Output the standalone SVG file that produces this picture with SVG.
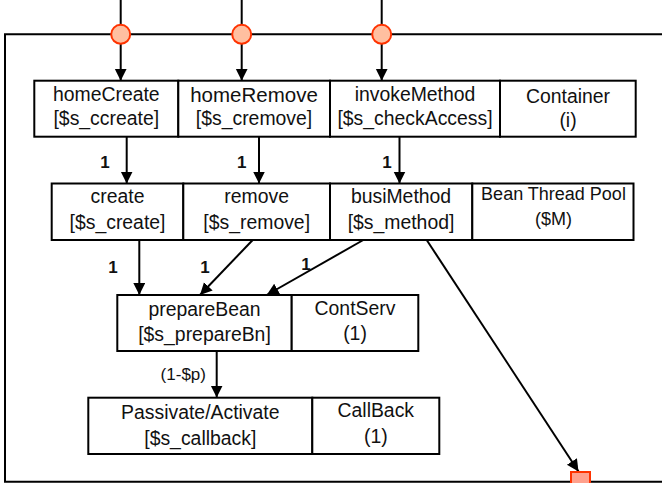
<svg xmlns="http://www.w3.org/2000/svg" width="662" height="483" viewBox="0 0 662 483">
<style>
.box{fill:#fff;stroke:#000;stroke-width:2}
.t{font-family:"Liberation Sans",Arial,sans-serif;font-size:19.4px;fill:#111;text-anchor:middle}
.ts{font-family:"Liberation Sans",Arial,sans-serif;font-size:17px;fill:#111;text-anchor:middle}
.lb{font-family:"Liberation Sans",Arial,sans-serif;font-size:17px;font-weight:bold;fill:#111;text-anchor:middle}
.c{stroke:#000;stroke-width:2;fill:none}
.port{fill:#FFBFA0;stroke:#FF3300;stroke-width:2}
.sink{fill:#FFA08C;stroke:#FF3300;stroke-width:2}
</style>
<defs>
<marker id="ah" markerUnits="userSpaceOnUse" markerWidth="13" markerHeight="13" refX="12" refY="6" orient="auto">
<path d="M0,0 L12,6 L0,12 z" fill="#000"/>
</marker>
</defs>
<path id="frame" d="M670,34.3 H5 V481.7 H670" fill="none" stroke="#000" stroke-width="2"/>
<g id="connectors">
<line class="c" x1="120.7" y1="0" x2="120.7" y2="80.7" marker-end="url(#ah)"/>
<line class="c" x1="241.7" y1="0" x2="241.7" y2="80.7" marker-end="url(#ah)"/>
<line class="c" x1="381.7" y1="0" x2="381.7" y2="80.7" marker-end="url(#ah)"/>
<line class="c" x1="126.7" y1="137" x2="126.7" y2="183.5" marker-end="url(#ah)"/>
<line class="c" x1="259" y1="137" x2="259" y2="183.5" marker-end="url(#ah)"/>
<line class="c" x1="399.5" y1="137" x2="399.5" y2="183.5" marker-end="url(#ah)"/>
<line class="c" x1="139.3" y1="240" x2="139.3" y2="295" marker-end="url(#ah)"/>
<line class="c" x1="252.7" y1="240" x2="200" y2="295" marker-end="url(#ah)"/>
<line class="c" x1="363.3" y1="240" x2="266.7" y2="295" marker-end="url(#ah)"/>
<line class="c" x1="426.7" y1="240" x2="578.5" y2="471.5" marker-end="url(#ah)"/>
<line class="c" x1="216.7" y1="351" x2="216.7" y2="397.5" marker-end="url(#ah)"/>
<text class="lb" x="105" y="168">1</text>
<text class="lb" x="241.7" y="168">1</text>
<text class="lb" x="387" y="168">1</text>
<text class="lb" x="113" y="273">1</text>
<text class="lb" x="205" y="273">1</text>
<text class="lb" x="306" y="270">1</text>
<text class="ts" x="183.3" y="380">(1-$p)</text>
</g>
<g id="port1"><circle class="port" cx="120.7" cy="34.3" r="9.5"/></g>
<g id="port2"><circle class="port" cx="241.7" cy="34.3" r="9.5"/></g>
<g id="port3"><circle class="port" cx="381.7" cy="34.3" r="9.5"/></g>
<g id="sink"><rect class="sink" x="571" y="472" width="19" height="19"/></g>
<g id="homeCreate"><rect class="box" x="34.3" y="80.7" width="144" height="56"/><text class="t" x="106.3" y="101">homeCreate</text><text class="t" x="106.3" y="125">[$s_ccreate]</text></g>
<g id="homeRemove"><rect class="box" x="178.3" y="80.7" width="151.7" height="56"/><text class="t" x="254" y="101.5" style="font-size:20.5px">homeRemove</text><text class="t" x="254" y="125">[$s_cremove]</text></g>
<g id="invokeMethod"><rect class="box" x="330" y="80.7" width="170" height="56"/><text class="t" x="415" y="101">invokeMethod</text><text class="t" x="415" y="125">[$s_checkAccess]</text></g>
<g id="container"><rect class="box" x="500" y="80.7" width="135.7" height="56"/><text class="t" x="568" y="103">Container</text><text class="t" x="568" y="127">(i)</text></g>
<g id="create"><rect class="box" x="51.7" y="183.5" width="131.6" height="56.5"/><text class="t" x="117.5" y="203.3">create</text><text class="t" x="117.5" y="229">[$s_create]</text></g>
<g id="remove"><rect class="box" x="183.3" y="183.5" width="146.7" height="56.5"/><text class="t" x="256.7" y="203.3">remove</text><text class="t" x="256.7" y="229">[$s_remove]</text></g>
<g id="busiMethod"><rect class="box" x="330" y="183.5" width="142.3" height="56.5"/><text class="t" x="401" y="203.3">busiMethod</text><text class="t" x="401" y="229">[$s_method]</text></g>
<g id="beanThreadPool"><rect class="box" x="472.3" y="183.5" width="161.2" height="56.5"/><text class="ts" x="553.5" y="200" style="font-size:18px">Bean Thread Pool</text><text class="ts" x="553.5" y="225" style="font-size:18px">($M)</text></g>
<g id="prepareBean"><rect class="box" x="117.3" y="295" width="174.4" height="56"/><text class="t" x="204.5" y="316">prepareBean</text><text class="t" x="204.5" y="341">[$s_prepareBn]</text></g>
<g id="contServ"><rect class="box" x="291.7" y="295" width="126.6" height="56"/><text class="t" x="355" y="315">ContServ</text><text class="t" x="355" y="340">(1)</text></g>
<g id="passivate"><rect class="box" x="88.3" y="397.7" width="224" height="56.3"/><text class="t" x="200.3" y="419.3">Passivate/Activate</text><text class="t" x="200.3" y="445">[$s_callback]</text></g>
<g id="callBack"><rect class="box" x="312.3" y="397.7" width="127" height="56.3"/><text class="t" x="375.8" y="416.7">CallBack</text><text class="t" x="375.8" y="442.7">(1)</text></g>
</svg>
